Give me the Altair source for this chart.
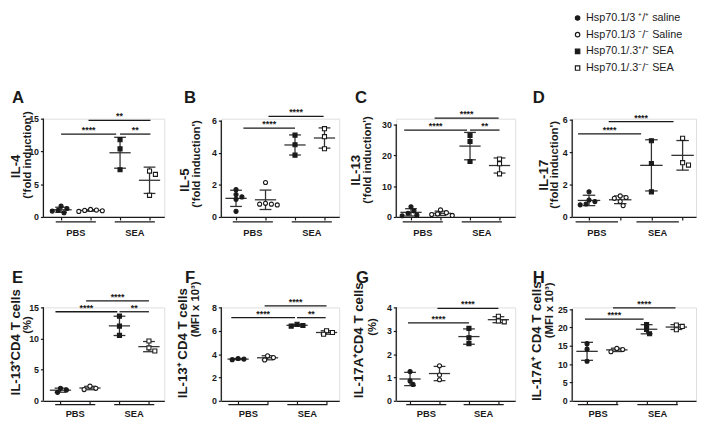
import altair as alt
import pandas as pd
import numpy as np

INK = "#1a1a1a"
BAR = "#333333"
FONT = "Liberation Sans"

GROUPS = ["Hsp70.1/3 ⁺/⁺ saline", "Hsp70.1/3 ⁻/⁻ Saline",
          "Hsp70.1/.3⁺/⁺ SEA", "Hsp70.1/.3⁻/⁻ SEA"]
SHAPES = ["circle", "circle", "square", "square"]
FILLS = [INK, "white", INK, "white"]
XLABELS = ["PBS", "SEA"]

# values per group: [+/+ saline, -/- saline, +/+ SEA, -/- SEA]
IL4 = [[1.65, 1.3, 1.0, 0.9, 0.65], [1.15, 1.05, 1.0, 0.95, 0.85], [11.8, 10.4, 7.2], [7.0, 6.5, 3.3]]
IL5 = [[1.7, 1.4, 1.25, 1.1, 0.35], [2.15, 0.8, 0.75, 0.8, 0.85], [5.1, 4.5, 3.85], [5.5, 5.0, 4.25]]
IL13 = [[3.3, 2.0, 1.2, 0.6, 0.4], [2.3, 1.4, 1.0, 0.8, 0.5], [26.5, 24.5, 18.0], [18.8, 17.3, 14.0]]
IL17 = [[1.55, 1.05, 0.95, 0.8, 0.75], [1.3, 1.2, 1.15, 0.95, 0.7], [4.7, 3.3, 1.55], [4.85, 3.35, 3.2]]
IL13_PCT = [[2.0, 1.75, 1.35], [2.35, 2.0, 1.8], [13.6, 12.0, 10.5], [9.6, 8.5, 8.0]]
IL13_MFI = [[3.62, 3.57, 3.52], [3.85, 3.7, 3.5], [6.55, 6.45, 6.4], [6.0, 5.85, 5.7]]
IL17A_PCT = [[1.25, 0.85, 0.7], [1.5, 1.1, 0.9], [3.1, 2.7, 2.45], [3.62, 3.42, 3.38]]
IL17A_MFI = [[15.6, 14.1, 10.8], [14.3, 14.0, 13.4], [20.8, 19.5, 18.3], [20.7, 20.3, 19.4]]

# significance comparisons: (from, to, height, label)
SIG_A = [(1.0, 2.87, 12.65, "****"), (3.0, 4.03, 12.65, "**"), (1.93, 4.03, 14.75, "**")]
SIG_B = [(1.25, 3.0, 5.53, "****"), (2.1, 3.97, 6.27, "****")]
SIG_C = [(0.77, 2.9, 28.2, "****"), (3.0, 4.0, 28.2, "**"), (1.8, 3.97, 32.1, "****")]
SIG_D = [(0.65, 2.67, 5.13, "****"), (1.63, 3.71, 5.88, "****")]
SIG_E = [(0.83, 2.93, 14.3, "****"), (3.0, 4.0, 14.3, "**"), (1.87, 4.0, 16.05, "****")]
SIG_F = [(0.77, 2.93, 7.12, "****"), (3.0, 3.97, 7.12, "**"), (1.9, 4.0, 8.14, "****")]
SIG_G = [(0.93, 3.0, 3.34, "****"), (1.93, 4.0, 3.96, "****")]
SIG_H = [(0.93, 2.9, 22.3, "****"), (1.87, 3.97, 25.4, "****")]

# axis titles: (outer text, inner text); first line is the larger one
PANELS = [
    dict(letter="A", vals=IL4, sig=SIG_A, yticks=[0, 5, 10, 15], ydom=15.0, xdom=(0.4, 4.5), w=123, h=100,
         lab=(1.5, 3.5), outer=("IL-4", -28, 48), inner=("('fold induction')", -16, 37), row=1),
    dict(letter="B", vals=IL5, sig=SIG_B, yticks=[0, 2, 4, 6], ydom=6.12, xdom=(0.5, 4.5), w=120, h=100,
         lab=(1.57, 3.57), outer=("IL-5", -37, 62), inner=("('fold induction')", -25, 46), row=1),
    dict(letter="C", vals=IL13, sig=SIG_C, yticks=[0, 10, 20, 30], ydom=31.9, xdom=(0.5, 4.53), w=121, h=100,
         lab=(1.4, 3.4), outer=("IL-13", -41, 52), inner=("('fold induction')", -29, 42), row=1),
    dict(letter="D", vals=IL17, sig=SIG_D, yticks=[0, 2, 4, 6], ydom=6.06, xdom=(0.46, 4.43), w=126, h=100,
         lab=(1.25, 3.2), outer=("IL-17", -29, 57), inner=("('fold induction')", -17, 47), row=1),
    dict(letter="E", vals=IL13_PCT, sig=SIG_E, yticks=[0, 5, 10, 15], ydom=15.0, xdom=(0.42, 4.52), w=123, h=95,
         lab=(1.5, 3.5), outer=("IL-13⁺CD4 T cells", -28, 35), inner=("(%)", -16, 18), row=2),
    dict(letter="F", vals=IL13_MFI, sig=SIG_F, yticks=[0, 2, 4, 6, 8], ydom=8.0, xdom=(0.43, 4.43), w=120, h=95,
         lab=(1.35, 3.35), outer=("IL-13⁺ CD4 T cells", -39, 36), inner=("(MFI x 10³)", -26, 2), row=2),
    dict(letter="G", vals=IL17A_PCT, sig=SIG_G, yticks=[0, 1, 2, 3, 4], ydom=4.0, xdom=(0.53, 4.57), w=121, h=95,
         lab=(1.55, 3.5), outer=("IL-17A⁺CD4 T cells", -38, 33), inner=("(%)", -24, 20), row=2),
    dict(letter="H", vals=IL17A_MFI, sig=SIG_H, yticks=[0, 5, 10, 15, 20, 25], ydom=25.5, xdom=(0.5, 4.66), w=126, h=95,
         lab=(1.37, 3.37), outer=("IL-17A⁺ CD4 T cells", -36, 34), inner=("(MFI x 10³)", -22, 3), row=2),
]


def swarm(vals, xpx, ypx, d=4.6):
    placed = []
    offs = [0.0] * len(vals)
    for i in sorted(range(len(vals)), key=lambda k: -vals[k]):
        yp = vals[i] * ypx
        xo = 0.0
        for step in [0, 1, -1, 2, -2, 3, -3, 4, -4]:
            xo = step * d * 0.65
            if all((xo - px) ** 2 + (yp - py) ** 2 >= d * d for px, py in placed):
                break
        placed.append((xo, yp))
        offs[i] = xo / xpx
    return offs


def panel(p, show_legend):
    w, h = p["w"], p["h"]
    x0, x1 = p["xdom"]
    ymax = p["ydom"]
    xpx = w / (x1 - x0)
    ypx = h / ymax
    xs = alt.Scale(domain=[x0, x1], nice=False, zero=False)
    ys = alt.Scale(domain=[0, ymax], nice=False, zero=False)
    xax = alt.Axis(values=[1, 2, 3, 4], labels=False, title=None, grid=False, tickSize=3,
                   domainColor=INK, tickColor=INK, domainWidth=1.3, tickWidth=1.2)
    o_t, o_x, o_y = p["outer"]
    i_t, i_x, i_y = p["inner"]
    # the larger first title line is the axis' own title, placed explicitly
    yax = alt.Axis(values=p["yticks"], title=o_t, titleX=o_x, titleY=o_y, titleAngle=270,
                   titleAlign="center", titleBaseline="middle", titleFontSize=13.5,
                   titleFontWeight="bold", titleColor=INK, titleFont=FONT,
                   grid=False, domain=False, tickSize=3,
                   tickColor=INK, tickWidth=1.2, labelFontSize=9, labelFontWeight="bold",
                   labelColor=INK, labelPadding=2, labelFont=FONT)

    def X(f):
        return alt.X(f, type="quantitative", scale=xs, axis=xax)

    def Y(f):
        return alt.Y(f, type="quantitative", scale=ys, axis=yax)

    rows = []
    for gi, vals in enumerate(p["vals"]):
        offs = swarm(vals, xpx, ypx)
        for v, o in zip(vals, offs):
            rows.append({"x": gi + 1 + o, "v": v, "g": GROUPS[gi]})
    pts = pd.DataFrame(rows)

    if show_legend:
        leg = alt.Legend(title=None, orient="none", legendX=0, legendY=-108, labelFontSize=11,
                         labelFont=FONT, labelColor=INK, symbolSize=20, symbolStrokeWidth=1.2,
                         rowPadding=5, labelOffset=3, padding=0, labelLimit=250)
    else:
        leg = None

    points = alt.Chart(pts).mark_point(filled=True, strokeWidth=1.1, opacity=1, size=17).encode(
        x=X("x"), y=Y("v"),
        shape=alt.Shape("g:N", scale=alt.Scale(domain=GROUPS, range=SHAPES), legend=leg),
        fill=alt.Fill("g:N", scale=alt.Scale(domain=GROUPS, range=FILLS), legend=leg),
        stroke=alt.Stroke("g:N", scale=alt.Scale(domain=GROUPS, range=[INK] * 4), legend=leg),
    )

    segs = []
    for gi, vals in enumerate(p["vals"]):
        g = gi + 1
        m = float(np.mean(vals))
        sd = float(np.std(vals, ddof=1))
        segs.append({"x": g, "x2": g, "y": m - sd, "y2": m + sd})
        segs.append({"x": g - 0.2, "x2": g + 0.2, "y": m - sd, "y2": m - sd})
        segs.append({"x": g - 0.2, "x2": g + 0.2, "y": m + sd, "y2": m + sd})
        segs.append({"x": g - 0.36, "x2": g + 0.36, "y": m, "y2": m})
    bars = pd.DataFrame(segs)
    errs = alt.Chart(bars).mark_rule(color=BAR, strokeWidth=1.3).encode(
        x=X("x"), x2="x2", y=Y("y"), y2="y2")

    sig = pd.DataFrame([{"x": a, "x2": b, "y": y, "y2": y, "t": t, "xm": (a + b) / 2} for a, b, y, t in p["sig"]])
    yline = pd.DataFrame([{"x": x0, "x2": x0, "y": 0, "y2": max(p["yticks"])}])
    blk = pd.concat([sig[["x", "x2", "y", "y2"]], yline], ignore_index=True)
    lines = alt.Chart(blk).mark_rule(color=INK, strokeWidth=1.3).encode(
        x=X("x"), x2="x2", y=Y("y"), y2="y2")
    stars = alt.Chart(sig).mark_text(font=FONT, fontSize=9, fontWeight="bold", color=INK,
                                     baseline="alphabetic", dy=-1).encode(
        x=X("xm"), y=Y("y"), text="t")

    under_dy, lab_dy = (5, 16) if p["row"] == 1 else (4, 14)
    labs = pd.DataFrame({"x": list(p["lab"]), "t": XLABELS})
    labs["a"] = labs["x"] - 0.68
    labs["b"] = labs["x"] + 0.68
    under = alt.Chart(labs).mark_rule(color=INK, strokeWidth=1.3).encode(
        x=X("a"), x2="b", y=alt.value(h + under_dy))
    labtext = alt.Chart(labs).mark_text(font=FONT, fontSize=9.5, fontWeight="bold", color=INK,
                                        baseline="middle").encode(
        x=X("x"), y=alt.value(h + lab_dy), text="t")

    inner = alt.Chart(pd.DataFrame({"t": [i_t]})).mark_text(
        font=FONT, fontSize=11.5, fontWeight="bold", color=INK, angle=270, align="center",
        baseline="middle").encode(text="t:N", x=alt.value(i_x), y=alt.value(i_y))
    ly = -16 if p["row"] == 1 else -25
    lx = {"A": -32, "B": -38, "C": -42, "D": -40, "E": -32, "F": -37, "G": -41, "H": -40}[p["letter"]]
    letter = alt.Chart(pd.DataFrame({"t": [p["letter"]]})).mark_text(
        font=FONT, fontSize=17, fontWeight="bold", color=INK, align="left",
        baseline="alphabetic").encode(text="t:N", x=alt.value(lx), y=alt.value(ly))

    return alt.layer(errs, lines, stars, under, labtext, inner, letter, points).properties(
        width=w, height=h)


charts = [panel(p, p["letter"] == "D") for p in PANELS]
chart = alt.concat(*charts, columns=4, spacing={"row": 92, "column": 58}, bounds="flush").resolve_scale(
    shape="independent", fill="independent", stroke="independent").properties(
    padding=0, background="white").configure_view(stroke=None).configure(font=FONT)

chart.save("out.html", embed_options={"renderer": "svg", "actions": False})
